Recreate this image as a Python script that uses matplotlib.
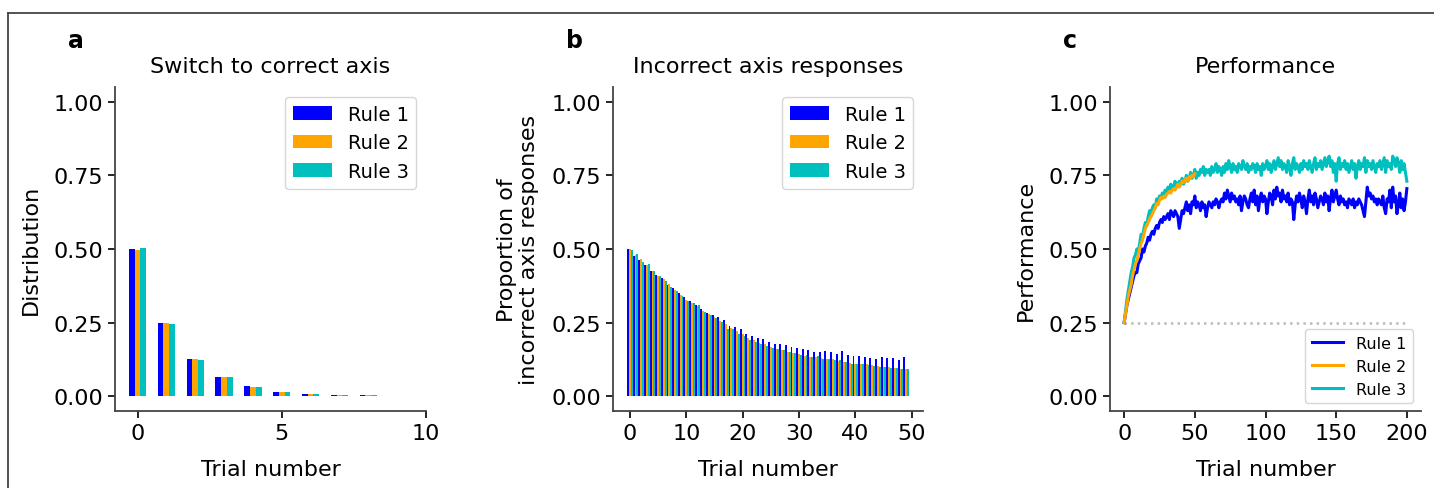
import numpy as np
import matplotlib
matplotlib.use("Agg")
import matplotlib.pyplot as plt
from matplotlib.lines import Line2D

rules = ["Rule 1", "Rule 2", "Rule 3"]
colors = ["#0000ff", "#ffa500", "#00bfbf"]

# panel a: distribution of trials needed to switch to correct axis
switch_trials = list(range(10))
switch_r1 = [0.500, 0.250, 0.125, 0.064, 0.034, 0.016, 0.008, 0.004, 0.003, 0.002]
switch_r2 = [0.498, 0.250, 0.125, 0.064, 0.033, 0.016, 0.008, 0.004, 0.003, 0.002]
switch_r3 = [0.505, 0.246, 0.123, 0.067, 0.031, 0.016, 0.008, 0.004, 0.003, 0.002]

# panel b: proportion of incorrect axis responses
wrong_trials = list(range(50))
wrong_r1 = [0.500, 0.477, 0.462, 0.445, 0.424, 0.411, 0.400, 0.377, 0.368, 0.349,
            0.338, 0.324, 0.309, 0.295, 0.284, 0.275, 0.270, 0.258, 0.239, 0.235,
            0.227, 0.212, 0.205, 0.199, 0.193, 0.184, 0.178, 0.176, 0.175, 0.168,
            0.165, 0.159, 0.157, 0.152, 0.151, 0.153, 0.152, 0.142, 0.153, 0.141,
            0.138, 0.136, 0.133, 0.131, 0.127, 0.133, 0.131, 0.131, 0.124, 0.133]
wrong_r2 = [0.500, 0.480, 0.465, 0.445, 0.425, 0.410, 0.398, 0.380, 0.362, 0.345,
            0.327, 0.318, 0.305, 0.290, 0.278, 0.268, 0.255, 0.245, 0.232, 0.222,
            0.210, 0.198, 0.190, 0.182, 0.176, 0.168, 0.162, 0.157, 0.150, 0.146,
            0.142, 0.138, 0.135, 0.132, 0.130, 0.128, 0.125, 0.120, 0.117, 0.114,
            0.110, 0.109, 0.108, 0.105, 0.102, 0.100, 0.099, 0.096, 0.094, 0.092]
wrong_r3 = [0.497, 0.482, 0.455, 0.448, 0.424, 0.408, 0.392, 0.370, 0.357, 0.340,
            0.325, 0.315, 0.310, 0.285, 0.275, 0.265, 0.252, 0.230, 0.228, 0.213,
            0.205, 0.192, 0.185, 0.178, 0.172, 0.165, 0.160, 0.158, 0.152, 0.148,
            0.140, 0.140, 0.135, 0.136, 0.128, 0.125, 0.124, 0.122, 0.117, 0.110,
            0.110, 0.108, 0.106, 0.104, 0.101, 0.100, 0.097, 0.096, 0.093, 0.092]

# panel c: performance per trial
perf_r1 = [0.25, 0.28, 0.31, 0.33, 0.35, 0.37, 0.39, 0.41, 0.42, 0.42,
           0.45, 0.46, 0.47, 0.50, 0.49, 0.51, 0.52, 0.54, 0.53, 0.55,
           0.56, 0.55, 0.57, 0.58, 0.57, 0.59, 0.60, 0.59, 0.61, 0.60,
           0.61, 0.62, 0.60, 0.63, 0.62, 0.61, 0.63, 0.62, 0.61, 0.57,
           0.60, 0.63, 0.62, 0.64, 0.66, 0.63, 0.65, 0.62, 0.66, 0.65,
           0.68, 0.64, 0.66, 0.65, 0.63, 0.66, 0.64, 0.65, 0.61, 0.64,
           0.66, 0.65, 0.64, 0.66, 0.65, 0.67, 0.66, 0.64, 0.66, 0.67,
           0.66, 0.69, 0.67, 0.70, 0.68, 0.66, 0.69, 0.67, 0.68, 0.66,
           0.67, 0.65, 0.68, 0.63, 0.66, 0.68, 0.67, 0.65, 0.64, 0.67,
           0.69, 0.66, 0.70, 0.65, 0.68, 0.63, 0.67, 0.69, 0.66, 0.68,
           0.67, 0.62, 0.66, 0.69, 0.68, 0.65, 0.70, 0.67, 0.71, 0.68,
           0.69, 0.66, 0.70, 0.67, 0.68, 0.66, 0.69, 0.65, 0.67, 0.66,
           0.60, 0.65, 0.68, 0.66, 0.69, 0.67, 0.64, 0.68, 0.66, 0.62,
           0.67, 0.70, 0.66, 0.68, 0.65, 0.69, 0.67, 0.64, 0.66, 0.68,
           0.67, 0.65, 0.69, 0.66, 0.68, 0.63, 0.67, 0.70, 0.66, 0.68,
           0.70, 0.67, 0.65, 0.68, 0.66, 0.67, 0.65, 0.66, 0.64, 0.67,
           0.66, 0.65, 0.67, 0.64, 0.66, 0.65, 0.67, 0.66, 0.65, 0.63,
           0.61, 0.66, 0.71, 0.68, 0.69, 0.67, 0.68, 0.66, 0.67, 0.65,
           0.67, 0.66, 0.65, 0.68, 0.64, 0.62, 0.67, 0.66, 0.70, 0.64,
           0.71, 0.66, 0.68, 0.62, 0.65, 0.69, 0.64, 0.67, 0.63, 0.66,
           0.705]
perf_r2 = [0.25, 0.28, 0.31, 0.34, 0.36, 0.38, 0.41, 0.43, 0.45, 0.46,
           0.48, 0.50, 0.52, 0.53, 0.55, 0.57, 0.58, 0.59, 0.60, 0.61,
           0.62, 0.63, 0.64, 0.655, 0.65, 0.665, 0.675, 0.67, 0.68, 0.675,
           0.685, 0.69, 0.695, 0.69, 0.70, 0.705, 0.70, 0.71, 0.72, 0.71,
           0.72, 0.73, 0.725, 0.735, 0.74, 0.73, 0.745, 0.74, 0.75, 0.745,
           0.755]
perf_r3 = [0.25, 0.29, 0.33, 0.36, 0.39, 0.42, 0.44, 0.47, 0.48, 0.50,
           0.49, 0.52, 0.55, 0.54, 0.57, 0.59, 0.58, 0.61, 0.63, 0.62,
           0.64, 0.65, 0.64, 0.67, 0.66, 0.68, 0.67, 0.69, 0.68, 0.70,
           0.69, 0.71, 0.70, 0.72, 0.70, 0.71, 0.73, 0.71, 0.72, 0.73,
           0.72, 0.74, 0.72, 0.73, 0.75, 0.73, 0.74, 0.76, 0.74, 0.75,
           0.77, 0.74, 0.76, 0.75, 0.77, 0.76, 0.78, 0.75, 0.77, 0.76,
           0.77, 0.75, 0.78, 0.76, 0.77, 0.79, 0.76, 0.78, 0.77, 0.75,
           0.78, 0.76, 0.79, 0.77, 0.80, 0.78, 0.76, 0.79, 0.77, 0.78,
           0.76, 0.79, 0.78, 0.77, 0.80, 0.78, 0.77, 0.79, 0.76, 0.78,
           0.77, 0.79, 0.78, 0.76, 0.79, 0.77, 0.78, 0.75, 0.79, 0.77,
           0.78, 0.80, 0.77, 0.79, 0.76, 0.78, 0.80, 0.77, 0.79, 0.81,
           0.78, 0.80, 0.77, 0.79, 0.78, 0.76, 0.80, 0.78, 0.75, 0.79,
           0.81, 0.77, 0.79, 0.78, 0.76, 0.79, 0.77, 0.80, 0.78, 0.79,
           0.77, 0.80, 0.78, 0.76, 0.79, 0.81, 0.77, 0.79, 0.78, 0.80,
           0.77, 0.79, 0.81, 0.78, 0.80, 0.815, 0.78, 0.80, 0.76, 0.79,
           0.73, 0.79, 0.81, 0.77, 0.79, 0.78, 0.80, 0.77, 0.79, 0.76,
           0.78, 0.80, 0.77, 0.79, 0.74, 0.78, 0.80, 0.77, 0.79, 0.78,
           0.81, 0.76, 0.80, 0.78, 0.79, 0.77, 0.80, 0.78, 0.76, 0.79,
           0.78, 0.80, 0.77, 0.79, 0.81, 0.76, 0.80, 0.78, 0.79, 0.77,
           0.815, 0.80, 0.78, 0.81, 0.79, 0.76, 0.80, 0.77, 0.79, 0.76,
           0.73]
chance = 0.25

plt.rcParams["font.size"] = 16
plt.rcParams["axes.edgecolor"] = "#444444"
plt.rcParams["axes.linewidth"] = 1.3

W, H = 1434, 489
fig = plt.figure(figsize=(W / 100, H / 100), dpi=100)

def box(left, right, top=88, bottom=412):
    return [left / W, 1 - bottom / H, (right - left) / W, (bottom - top) / H]

ax_a = fig.add_axes(box(115, 426))
ax_b = fig.add_axes(box(613, 923))
ax_c = fig.add_axes(box(1110, 1421))

for ax in (ax_a, ax_b, ax_c):
    ax.spines["top"].set_visible(False)
    ax.spines["right"].set_visible(False)
    ax.set_ylim(-0.05, 1.05)
    ax.set_yticks([0, 0.25, 0.5, 0.75, 1.0])
    ax.set_yticklabels(["0.00", "0.25", "0.50", "0.75", "1.00"])
    ax.tick_params(length=5, width=1.2, labelsize=16)
    ax.set_xlabel("Trial number", fontsize=16, labelpad=12)

# a
xa = np.array(switch_trials)
wa = 0.2
for i, vals in enumerate([switch_r1, switch_r2, switch_r3]):
    ax_a.bar(xa + (i - 1) * wa, vals, wa, color=colors[i], label=rules[i])
ax_a.set_xticks([0, 5, 10])
ax_a.set_xlim(-0.78, 10)
ax_a.set_ylabel("Distribution", fontsize=16, labelpad=9)
ax_a.set_title("Switch to correct axis", fontsize=16, pad=11)
ax_a.legend(fontsize=14, loc="upper right")

# b
xb = np.array(wrong_trials)
wb = 1 / 3
for i, vals in enumerate([wrong_r1, wrong_r2, wrong_r3]):
    ax_b.bar(xb + (i - 1) * wb, vals, wb, color=colors[i], label=rules[i])
ax_b.set_xticks([0, 10, 20, 30, 40, 50])
ax_b.set_xlim(-3, 52)
ax_b.set_ylabel("Proportion of\nincorrect axis responses", fontsize=16,
                linespacing=1.1, labelpad=9)
ax_b.set_title("Incorrect axis responses", fontsize=16, pad=11)
ax_b.legend(fontsize=14, loc="upper right")

# c
ax_c.plot([0, len(perf_r1) - 1], [chance, chance], ":", color="#bbbbbb", lw=1.8)
ax_c.plot(range(len(perf_r1)), perf_r1, color=colors[0], lw=2.2, label=rules[0], zorder=3)
ax_c.plot(range(len(perf_r2)), perf_r2, color=colors[1], lw=2.2, label=rules[1], zorder=5)
ax_c.plot(range(len(perf_r3)), perf_r3, color=colors[2], lw=2.2, label=rules[2], zorder=4)
ax_c.set_xticks([0, 50, 100, 150, 200])
ax_c.set_xlim(-10, 210)
ax_c.set_ylabel("Performance", fontsize=16, labelpad=9)
ax_c.set_title("Performance", fontsize=16, pad=11)
ax_c.legend(fontsize=11.5, loc="lower right")

for lab, xp in zip("abc", [76, 575, 1070]):
    fig.text(xp / W, 1 - 48 / H, lab, fontsize=17, fontweight="bold",
             ha="center", va="baseline")

# frame of the cropped figure
fig.add_artist(Line2D([8 / W, 1], [1 - 14 / H, 1 - 14 / H], color="#444444", lw=1.3))
fig.add_artist(Line2D([8 / W, 8 / W], [0, 1 - 14 / H], color="#444444", lw=1.3))

fig.savefig("out.png", dpi=100)
